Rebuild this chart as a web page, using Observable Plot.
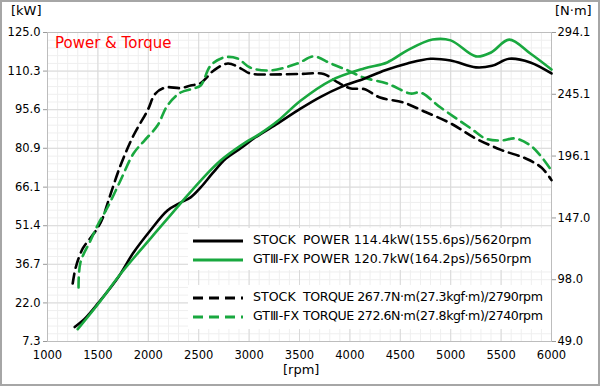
<!DOCTYPE html>
<html><head><meta charset="utf-8">
<script src="https://cdn.jsdelivr.net/npm/d3@7"></script>
<script src="https://cdn.jsdelivr.net/npm/@observablehq/plot@0.6"></script>
<style>
body{margin:0;background:#fff;}
#wrap{position:relative;width:600px;height:386px;overflow:hidden;font-family:"DejaVu Sans",Verdana,sans-serif;color:#000;}
#wrap::after{content:"";position:absolute;left:0;top:0;right:0;bottom:0;border:2px solid #a6a6a6;pointer-events:none;}
#wrap svg.plot{position:absolute;left:0;top:0;}
.lab{position:absolute;font-size:13px;white-space:nowrap;}
.title{position:absolute;left:55px;top:34px;font-size:15px;color:#ff0000;}
.leg{position:absolute;left:188px;width:363px;background:#fff;}
.row{position:absolute;left:5px;height:18px;width:355px;font-size:12.6px;white-space:nowrap;}
.row svg{position:absolute;left:0;top:0;}
.row span{position:absolute;top:0px;}
.row .desc.tq{letter-spacing:-0.45px;}
</style></head><body><div id="wrap"></div>
<script>
// ---- data ----
const kwTicks = [7.3, 22.0, 36.7, 51.4, 66.1, 80.9, 95.6, 110.3, 125.0];
const nmTicks = [49.0, 98.0, 147.0, 196.1, 245.1, 294.1];
const rpmTicks = [1000, 1500, 2000, 2500, 3000, 3500, 4000, 4500, 5000, 5500, 6000];

const stockPowerRpm = [1270,1380,1500,1700,1850,2020,2190,2320,2420,2520,2640,2770,2920,3060,3290,3510,3710,3910,4140,4350,4570,4800,5000,5250,5410,5580,5790,6000];
const stockPowerKw  = [12.8,16.4,21.8,31.7,41.0,49.6,57.2,60.2,62.2,66.0,71.5,77.0,81.0,85.0,90.5,96.0,100.5,104.2,107.4,110.6,113.2,115.0,114.3,111.7,112.3,115.0,113.6,109.4];

const fxPowerRpm = [1300,1500,1720,1920,2090,2320,2520,2720,2920,3110,3290,3510,3810,4140,4370,4570,4820,5000,5250,5400,5580,5790,6000];
const fxPowerKw  = [12.0,21.5,32.8,42.0,49.6,59.9,68.6,76.3,82.0,86.5,91.5,99.0,106.7,111.3,113.6,118.2,122.3,122.0,115.9,117.4,122.3,117.0,110.9];

const stockTorqueRpm = [1250,1280,1350,1430,1500,1550,1605,1724,1853,1992,2071,2170,2320,2420,2520,2650,2790,2920,3010,3180,3510,3740,3880,4010,4140,4300,4530,4750,5000,5250,5500,5750,5900,6000];
const stockTorqueNm  = [95.0,107.7,122.8,131.5,139.4,147.4,160.8,188.6,212.4,232.2,245.7,250.5,250.0,252.0,254.0,264.0,269.5,265.5,261.6,260.8,261.2,261.2,254.5,249.7,249.2,242.5,238.6,231.0,222.0,210.0,201.0,194.0,187.0,177.0];

const fxTorqueRpm = [1308,1327,1427,1506,1595,1724,1853,1962,2091,2190,2320,2450,2520,2620,2750,2885,3010,3210,3480,3640,3810,3980,4135,4370,4600,4700,4900,5200,5345,5495,5645,5790,5890,6000];
const fxTorqueNm  = [91.8,111.7,129.1,142.6,155.3,176.7,198.1,208.4,220.3,236.2,246.5,249.7,252.1,268.0,274.3,273.5,266.3,264.0,269.5,275.1,269.5,264.0,258.4,253.6,245.7,246.5,234.6,218.0,210.0,208.4,210.0,204.5,196.5,184.6];

const seriesPrefix = ["STOCK", "GT\u2162-FX", "STOCK", "GT\u2162-FX"];
const seriesDesc = ["POWER 114.4kW(155.6ps)/5620rpm", "POWER 120.7kW(164.2ps)/5650rpm", "TORQUE 267.7N·m(27.3kgf·m)/2790rpm", "TORQUE 272.6N·m(27.8kgf·m)/2740rpm"];

// ---- mapping torque onto the kW scale (dual axis) ----
const kwMin = kwTicks[0], kwMax = kwTicks[kwTicks.length-1];
const nmMin = nmTicks[0], nmMax = nmTicks[nmTicks.length-1];
const t2k = t => kwMin + (t - nmMin) * (kwMax - kwMin) / (nmMax - nmMin);
const nmPos = nmTicks.map(t2k);

const GREEN = "#19a83f";
const mk = (rpm, vals, conv) => rpm.map((r,i)=>({rpm:r, v: conv ? conv(vals[i]) : vals[i]}));
const sp = mk(stockPowerRpm, stockPowerKw);
const fp = mk(fxPowerRpm, fxPowerKw);
const st = mk(stockTorqueRpm, stockTorqueNm, t2k);
const ft = mk(fxTorqueRpm, fxTorqueNm, t2k);

const minorX = d3.range(1000, 6001, 100);
const minorY = d3.range(0, 41).map(i => kwMin + i*(kwMax-kwMin)/40);

const chart = Plot.plot({
  width: 600, height: 386,
  marginLeft: 47, marginRight: 49, marginTop: 32, marginBottom: 45,
  style: {fontFamily: '"DejaVu Sans", Verdana, sans-serif', fontSize: "11.5px", color: "#000", background: "transparent"},
  x: {domain: [1000, 6000]},
  y: {domain: [kwMin, kwMax]},
  marks: [
    Plot.ruleX(minorX, {stroke: "#efefef", strokeWidth: 1}),
    Plot.ruleY(minorY, {stroke: "#efefef", strokeWidth: 1}),
    Plot.ruleX(rpmTicks, {stroke: "#d9d9d9", strokeWidth: 1}),
    Plot.ruleY(kwTicks, {stroke: "#d9d9d9", strokeWidth: 1}),
    Plot.frame({stroke: "#bdbdbd"}),
    Plot.axisY({anchor: "left", ticks: kwTicks, tickFormat: d => d.toFixed(1), tickSize: 4, tickPadding: 3, label: null, stroke: "#999"}),
    Plot.axisY({anchor: "right", ticks: nmPos, tickFormat: d => { const i = nmPos.findIndex(p => Math.abs(p-d) < 1e-6); return i >= 0 ? nmTicks[i].toFixed(1) : ""; }, tickSize: 4, tickPadding: 2, label: null, stroke: "#999"}),
    Plot.axisX({ticks: rpmTicks, tickFormat: d => String(d), tickSize: 0, tickPadding: 9, label: null}),
    Plot.line(st, {x: "rpm", y: "v", stroke: "#000", strokeWidth: 2.6, strokeDasharray: "10,6", curve: "catmull-rom"}),
    Plot.line(ft, {x: "rpm", y: "v", stroke: GREEN, strokeWidth: 2.6, strokeDasharray: "10,6", curve: "catmull-rom"}),
    Plot.line(sp, {x: "rpm", y: "v", stroke: "#000", strokeWidth: 2.6, curve: "catmull-rom"}),
    Plot.line(fp, {x: "rpm", y: "v", stroke: GREEN, strokeWidth: 2.6, curve: "catmull-rom"})
  ]
});
chart.classList.add("plot");
const wrap = document.getElementById("wrap");
wrap.appendChild(chart);

function addDiv(cls, text, css){ const d=document.createElement("div"); d.className=cls; if(text!=null) d.textContent=text; Object.assign(d.style, css||{}); wrap.appendChild(d); return d; }
addDiv("lab", "[kW]", {left:"11px", top:"3px"});
addDiv("lab", "[N·m]", {left:"555px", top:"3px"});
addDiv("lab", "[rpm]", {left:"283px", top:"362px"});
addDiv("title", "Power & Torque");

const legItems = [
  {color: "#000", dash: null, tq: false},
  {color: GREEN, dash: null, tq: false},
  {color: "#000", dash: "10,6", tq: true},
  {color: GREEN, dash: "10,6", tq: true}
];
const boxes = [{top:228, h:42, items:[0,1]}, {top:285, h:44, items:[2,3]}];
boxes.forEach(b => {
  const box = addDiv("leg", null, {top: b.top+"px", height: b.h+"px"});
  b.items.forEach((idx, j) => {
    const it = legItems[idx];
    const row = document.createElement("div");
    row.className = "row";
    row.style.top = (4 + j*19) + "px";
    row.innerHTML = `<svg width="55" height="18"><line x1="0" y1="9" x2="50" y2="9" stroke="${it.color}" stroke-width="2.8" ${it.dash?`stroke-dasharray="${it.dash}"`:""}/></svg>`;
    const s1 = document.createElement("span"); s1.textContent = seriesPrefix[idx]; s1.style.left = "60px"; row.appendChild(s1);
    const s2 = document.createElement("span"); s2.className = "desc" + (it.tq ? " tq" : ""); s2.textContent = seriesDesc[idx]; s2.style.left = "110px"; row.appendChild(s2);
    box.appendChild(row);
  });
});
</script></body></html>
